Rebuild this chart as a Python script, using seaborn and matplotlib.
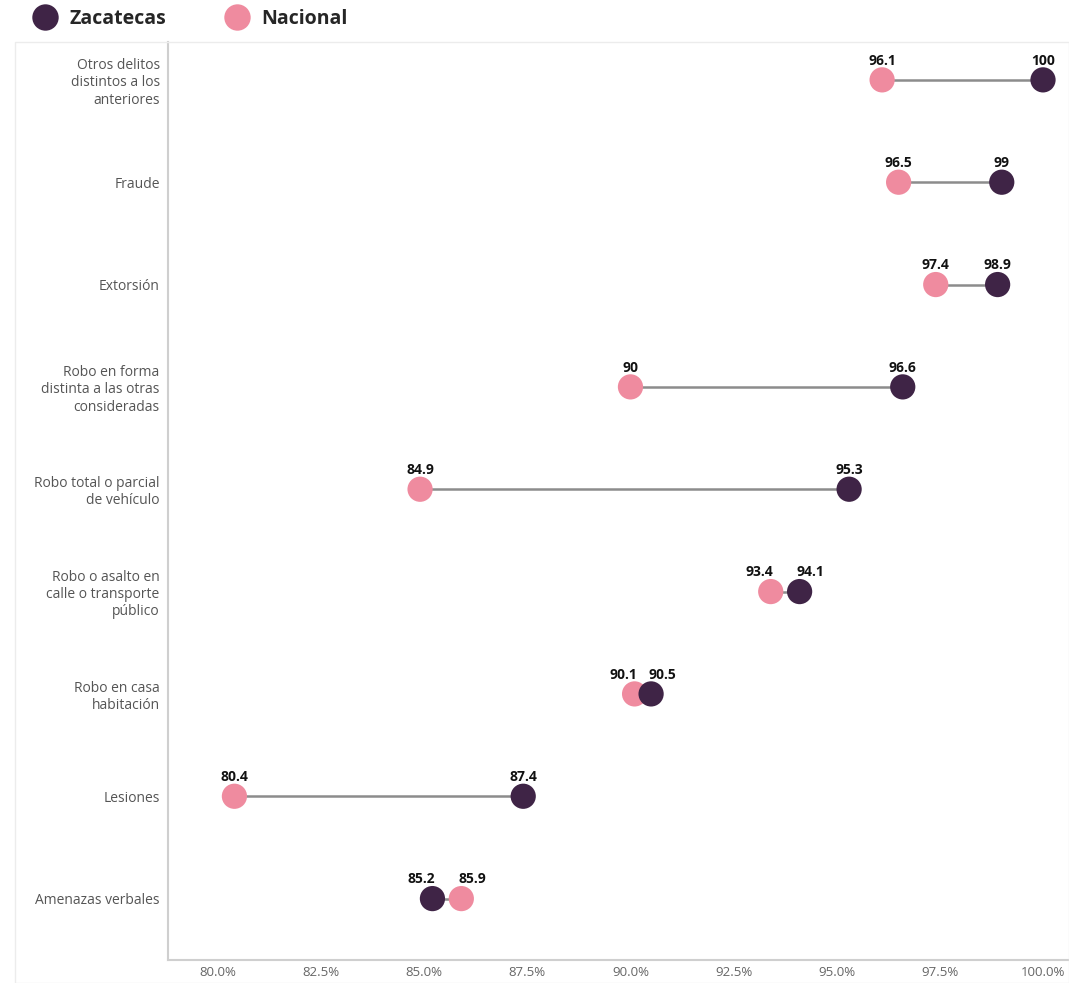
import numpy as np
import pandas as pd
import matplotlib
matplotlib.use("Agg")
import matplotlib.pyplot as plt
import seaborn as sns
from matplotlib.lines import Line2D
from matplotlib.patches import Rectangle
from matplotlib.ticker import FuncFormatter

# categories, top to bottom
categories = [
    "Otros delitos\ndistintos a los\nanteriores",
    "Fraude",
    "Extorsión",
    "Robo en forma\ndistinta a las otras\nconsideradas",
    "Robo total o parcial\nde vehículo",
    "Robo o asalto en\ncalle o transporte\npúblico",
    "Robo en casa\nhabitación",
    "Lesiones",
    "Amenazas verbales",
]
zacatecas = [100, 99, 98.9, 96.6, 95.3, 94.1, 90.5, 87.4, 85.2]
nacional = [96.1, 96.5, 97.4, 90, 84.9, 93.4, 90.1, 80.4, 85.9]
x_ticks = [80, 82.5, 85, 87.5, 90, 92.5, 95, 97.5, 100]

c_zac = "#3f2446"
c_nac = "#ef8b9f"

df = pd.DataFrame({
    "categoria": categories * 2,
    "valor": nacional + zacatecas,
    "serie": ["Nacional"] * len(categories) + ["Zacatecas"] * len(categories),
})

sns.set_style("white")
plt.rcParams["font.family"] = ["Open Sans", "DejaVu Sans"]

fig = plt.figure(figsize=(10.69, 9.83), dpi=100)
# outer light frame
fig.patches.append(Rectangle((15 / 1069, 0), 1 - 15 / 1069, (983 - 42) / 983,
                             transform=fig.transFigure, fill=False,
                             edgecolor="#ececec", linewidth=1))
ax = fig.add_axes([168 / 1069, 23 / 983, 1 - 168 / 1069, (960 - 42) / 983])

ypos = np.arange(len(categories))
for y, a, b in zip(ypos, zacatecas, nacional):
    ax.plot([a, b], [y, y], color="#8c8c8c", linewidth=1.8, zorder=1)

df["y"] = df["categoria"].map({c: i for i, c in enumerate(categories)})
sns.scatterplot(data=df, x="valor", y="y", hue="serie",
                palette={"Nacional": c_nac, "Zacatecas": c_zac},
                s=330, edgecolor="none", legend=False, ax=ax, zorder=3)


def fmt(v):
    return f"{v:g}"


lab_kw = dict(va="bottom", fontsize=10, fontweight="bold", color="#111111", zorder=4)
for y, a, b in zip(ypos, zacatecas, nacional):
    lo, hi = min(a, b), max(a, b)
    if hi - lo < 1.0:
        # close pair: push labels apart
        ax.annotate(fmt(lo), (lo, y - 0.12), xytext=(2, 0), textcoords="offset points",
                    ha="right", **lab_kw)
        ax.annotate(fmt(hi), (hi, y - 0.12), xytext=(-2, 0), textcoords="offset points",
                    ha="left", **lab_kw)
    else:
        ax.text(lo, y - 0.12, fmt(lo), ha="center", **lab_kw)
        ax.text(hi, y - 0.12, fmt(hi), ha="center", **lab_kw)

ax.set_xlim(78.79, 100.63)
ax.set_ylim(8.6, -0.37)
ax.set_yticks(ypos)
ax.set_yticklabels(categories, fontsize=10, color="#555555")
ax.set_xticks(x_ticks)
ax.xaxis.set_major_formatter(FuncFormatter(lambda v, p: f"{v:.1f}%"))
ax.tick_params(axis="x", labelsize=9.5, colors="#666666", length=0, pad=4)
ax.tick_params(axis="y", length=0, pad=6)
ax.set_xlabel("")
ax.set_ylabel("")
for side in ["top", "right"]:
    ax.spines[side].set_visible(False)
for side in ["left", "bottom"]:
    ax.spines[side].set_color("#cfcfcf")
    ax.spines[side].set_linewidth(1.5)

handles = [
    Line2D([], [], marker="o", linestyle="none", markersize=19,
           markerfacecolor=c_zac, markeredgecolor="none", label="Zacatecas"),
    Line2D([], [], marker="o", linestyle="none", markersize=19,
           markerfacecolor=c_nac, markeredgecolor="none", label="Nacional"),
]
fig.legend(handles=handles, loc="center left", bbox_to_anchor=(0.008, 0.981),
           ncol=2, frameon=False, handletextpad=0.25, columnspacing=2.6,
           prop={"size": 14, "weight": "bold"})

fig.savefig("out.png", dpi=100, facecolor="white")
